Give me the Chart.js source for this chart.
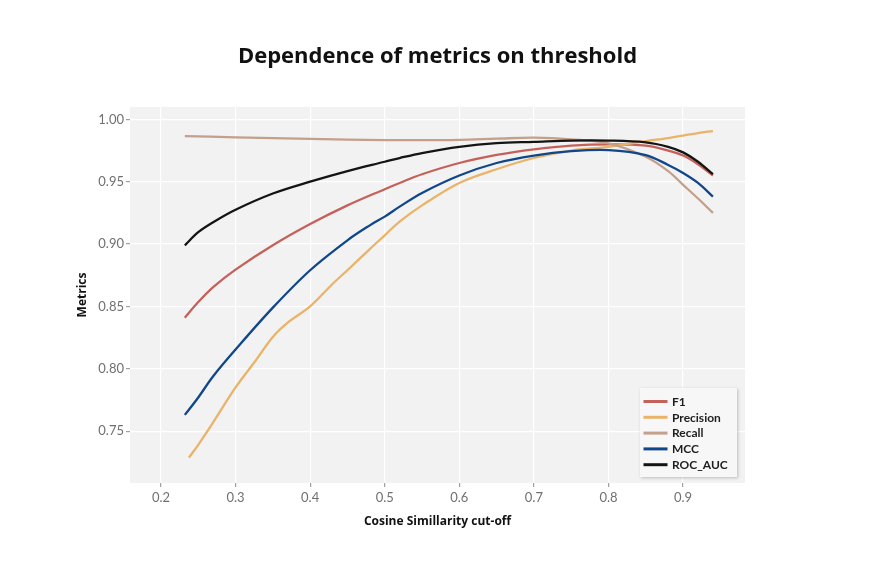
<!DOCTYPE html>
<html>
<head>
<meta charset="utf-8">
<title>Dependence of metrics on threshold</title>
<script src="https://cdn.jsdelivr.net/npm/chart.js@4.4.1/dist/chart.umd.min.js"></script>
<style>
    html, body { margin: 0; padding: 0; background: #ffffff; }
    #wrap { width: 875px; height: 567px; }
</style>
</head>
<body>
<div id="wrap"><canvas id="metrics-chart" width="875" height="567"></canvas></div>
<script>
    "use strict";

    // Data
    var thresholds = [0.232, 0.2375, 0.25, 0.27, 0.3, 0.325, 0.35, 0.37, 0.4, 0.43, 0.45, 0.48, 0.5, 0.52, 0.55, 0.6, 0.65, 0.7, 0.75, 0.8, 0.85, 0.88, 0.9, 0.92, 0.94];
    var f1        = [0.841, null, 0.8535, 0.8655, 0.8795, null, 0.899, null, 0.916, null, 0.931, null, 0.944, 0.949, 0.956, 0.965, 0.9715, 0.976, 0.979, 0.980, 0.979, 0.975, 0.971, 0.964, 0.955];
    var precision = [null, 0.7287, 0.739, 0.757, 0.785, 0.805, 0.8255, 0.837, 0.850, 0.868, 0.879, 0.896, 0.907, 0.918, 0.931, 0.949, 0.960, 0.969, 0.975, 0.978, 0.9825, 0.985, 0.987, 0.989, 0.9906];
    var recall    = [0.9866, null, null, null, 0.9856, null, null, null, 0.9843, null, null, null, 0.9834, null, 0.9833, 0.9836, 0.9845, 0.9853, 0.984, 0.9808, 0.970, 0.9585, 0.9475, 0.9365, 0.925];
    var mcc       = [0.763, null, 0.777, 0.794, 0.8154, null, 0.849, null, 0.879, null, 0.903, 0.915, 0.922, 0.930, 0.941, 0.955, 0.965, 0.971, 0.9745, 0.9754, 0.9714, 0.9634, 0.957, 0.949, 0.938];
    var rocAuc    = [0.899, null, 0.9095, 0.9175, 0.9275, null, 0.9405, null, 0.950, null, 0.9585, null, 0.966, 0.969, 0.973, 0.978, 0.981, 0.982, 0.983, 0.983, 0.9816, 0.978, 0.9735, 0.966, 0.956];

    var seriesNames = ["F1", "Precision", "Recall", "MCC", "ROC_AUC"];
    var seriesColors = ["#c4625a", "#e9b469", "#c49f8a", "#11468a", "#141414"];

    var xTicks = [0.2, 0.3, 0.4, 0.5, 0.6, 0.7, 0.8, 0.9];
    var yTicks = [0.75, 0.80, 0.85, 0.90, 0.95, 1.00];

    // turn a series into {x, y} points, skipping thresholds not read
    function toPoints(values) {
        var pts = [];
        values.forEach(function (v, i) {
            if (v !== null) {
                pts.push({x: thresholds[i], y: v});
            }
        });
        return pts;
    }

    // grey ggplot style panel behind the grid
    var panelBackground = {
        id: "panelBackground",
        beforeDraw: function (chart) {
            var a = chart.chartArea;
            var ctx = chart.ctx;
            ctx.save();
            ctx.fillStyle = "#f2f2f2";
            ctx.fillRect(a.left, a.top, a.right - a.left, a.bottom - a.top);
            ctx.restore();
        }
    };

    // legend box drawn inside the bottom right corner of the panel
    var insideLegend = {
        id: "insideLegend",
        afterDraw: function (chart) {
            var a = chart.chartArea;
            var ctx = chart.ctx;
            var w = 97, h = 89;
            var left = a.right - 8 - w;
            var top = a.bottom - 6 - h;
            ctx.save();
            ctx.shadowColor = "rgba(0, 0, 0, 0.22)";
            ctx.shadowBlur = 3;
            ctx.shadowOffsetX = 1;
            ctx.shadowOffsetY = 1;
            ctx.fillStyle = "#f7f7f7";
            ctx.fillRect(left, top, w, h);
            ctx.shadowColor = "transparent";

            ctx.font = "bold 12px Lato";
            ctx.textBaseline = "middle";
            chart.data.datasets.forEach(function (ds, i) {
                var y = top + 13.5 + i * 15.8;
                ctx.strokeStyle = ds.borderColor;
                ctx.lineWidth = 3;
                ctx.beginPath();
                ctx.moveTo(left + 3.5, y);
                ctx.lineTo(left + 27.5, y);
                ctx.stroke();
                ctx.fillStyle = "#1e1e1e";
                ctx.fillText(ds.label, left + 32, y + 0.5);
            });
            ctx.restore();
        }
    };

    Chart.defaults.font.family = "Lato";
    Chart.defaults.color = "#707070";

    var datasets = [f1, precision, recall, mcc, rocAuc].map(function (values, i) {
        return {
            label: seriesNames[i],
            data: toPoints(values),
            borderColor: seriesColors[i],
            backgroundColor: seriesColors[i],
            borderWidth: 2.3,
            pointRadius: 0,
            fill: false,
            tension: 0.35,
            order: seriesNames.length - i
        };
    });

    var ctx = document.getElementById("metrics-chart").getContext("2d");
    var metricsChart = new Chart(ctx, {
        type: "line",
        data: {datasets: datasets},
        options: {
            responsive: false,
            animation: false,
            layout: {padding: 0},
            plugins: {
                legend: {display: false},
                tooltip: {enabled: false},
                title: {
                    display: true,
                    text: "Dependence of metrics on threshold",
                    color: "#111111",
                    font: {size: 22, weight: "bold", family: "Open Sans", lineHeight: 1.2},
                    padding: {top: 44, bottom: 36.6}
                }
            },
            scales: {
                x: {
                    type: "linear",
                    min: 0.1585,
                    max: 0.983,
                    afterBuildTicks: function (scale) {
                        scale.ticks = xTicks.map(function (v) { return {value: v}; });
                    },
                    afterFit: function (scale) { scale.height = 84; },
                    ticks: {
                        padding: 3,
                        font: {size: 13},
                        color: "#707070",
                        callback: function (v) { return v.toFixed(1); }
                    },
                    grid: {color: "#ffffff", lineWidth: 1.2, tickColor: "#a0a0a0", tickLength: 4},
                    border: {display: false},
                    title: {
                        display: true,
                        text: "Cosine Simillarity cut-off",
                        color: "#111111",
                        font: {size: 12, weight: "bold", family: "Open Sans"},
                        padding: {top: 0, bottom: 38}
                    }
                },
                y: {
                    type: "linear",
                    min: 0.7084,
                    max: 1.0099,
                    afterBuildTicks: function (scale) {
                        scale.ticks = yTicks.map(function (v) { return {value: v}; });
                    },
                    afterFit: function (scale) { scale.width = 130; },
                    ticks: {
                        padding: 2,
                        font: {size: 13},
                        color: "#707070",
                        callback: function (v) { return v.toFixed(2); }
                    },
                    grid: {color: "#ffffff", lineWidth: 1.2, tickColor: "#a0a0a0", tickLength: 4},
                    border: {display: false},
                    title: {
                        display: true,
                        text: "Metrics",
                        color: "#111111",
                        font: {size: 12, weight: "bold", family: "Open Sans"},
                        padding: {top: 75, bottom: 0}
                    }
                },
                // empty right axis that only keeps the white margin on the right
                margin: {
                    type: "linear",
                    position: "right",
                    grid: {display: false, drawTicks: false},
                    ticks: {display: false},
                    border: {display: false},
                    afterFit: function (scale) { scale.width = 130; }
                }
            }
        },
        plugins: [panelBackground, insideLegend]
    });
</script>
</body>
</html>
